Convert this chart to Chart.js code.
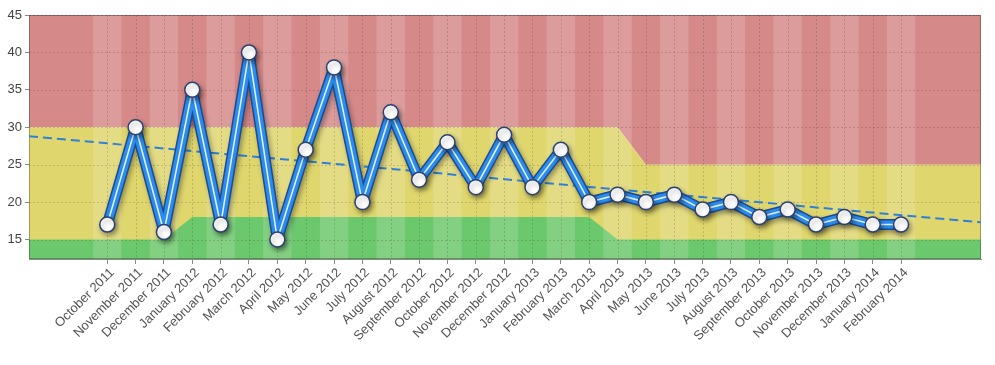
<!DOCTYPE html>
<html lang="en">
<head>
<meta charset="UTF-8" />
<title>Monthly score</title>
<style>
  body { margin: 0; background: #fff; }
  #wrap { width: 995px; height: 365px; }
</style>
</head>
<body>
<div id="wrap"><canvas id="scoreChart" width="995" height="365"></canvas></div>

<script src="https://cdn.jsdelivr.net/npm/chart.js"></script>
<script>
  // months shown on the x axis
  const monthLabels = [
    'October 2011', 'November 2011', 'December 2011',
    'January 2012', 'February 2012', 'March 2012', 'April 2012', 'May 2012', 'June 2012',
    'July 2012', 'August 2012', 'September 2012', 'October 2012', 'November 2012', 'December 2012',
    'January 2013', 'February 2013', 'March 2013', 'April 2013', 'May 2013', 'June 2013',
    'July 2013', 'August 2013', 'September 2013', 'October 2013', 'November 2013', 'December 2013',
    'January 2014', 'February 2014'
  ];

  // monthly values
  const scoreValues = [17, 30, 16, 35, 17, 40, 15, 27, 38, 20, 32, 23, 28, 22, 29,
                       22, 27, 20, 21, 20, 21, 19, 20, 18, 19, 17, 18, 17, 17];

  // upper edge of the green zone, per month
  const greenLimit = [15, 15, 15, 18, 18, 18, 18, 18, 18, 18, 18, 18, 18, 18, 18,
                      18, 18, 18, 15, 15, 15, 15, 15, 15, 15, 15, 15, 15, 15];

  // upper edge of the yellow zone, per month
  const yellowLimit = [30, 30, 30, 30, 30, 30, 30, 30, 30, 30, 30, 30, 30, 30, 30,
                       30, 30, 30, 30, 25, 25, 25, 25, 25, 25, 25, 25, 25, 25];

  // trend line, value at left and right edge of the plot
  const trendEnds = [28.8, 17.3];

  const yTicks = [15, 20, 25, 30, 35, 40, 45];

  const xMin = -2.76, xMax = 30.82;
  const yMin = 12.4, yMax = 45;

  // band edges extended to both sides of the plot
  function edgePoints(arr) {
    const pts = [{ x: xMin, y: arr[0] }];
    arr.forEach((v, i) => pts.push({ x: i, y: v }));
    pts.push({ x: xMax, y: arr[arr.length - 1] });
    return pts;
  }

  const seriesPoints = scoreValues.map((v, i) => ({ x: i, y: v }));

  // light stripes on every other month plus dotted grid, drawn right after the bands
  const bandDecor = {
    id: 'bandDecor',
    afterDatasetDraw(chart, args) {
      if (!chart.data.datasets[args.index].decorAfter) return;
      const ctx = chart.ctx;
      const a = chart.chartArea;
      const xs = chart.scales.x, ys = chart.scales.y;
      ctx.save();
      ctx.fillStyle = 'rgba(255,255,255,0.16)';
      monthLabels.forEach((m, i) => {
        if (i % 2 !== 0) return;
        const l = xs.getPixelForValue(i - 0.5);
        const r = xs.getPixelForValue(i + 0.5);
        ctx.fillRect(l, a.top, r - l, a.bottom - a.top);
      });
      ctx.strokeStyle = 'rgba(60,40,40,0.2)';
      ctx.lineWidth = 1;
      ctx.setLineDash([2, 2]);
      ctx.beginPath();
      yTicks.forEach(v => {
        const y = Math.round(ys.getPixelForValue(v)) + 0.5;
        ctx.moveTo(a.left, y); ctx.lineTo(a.right, y);
      });
      monthLabels.forEach((m, i) => {
        const x = Math.round(xs.getPixelForValue(i)) + 0.5;
        ctx.moveTo(x, a.top); ctx.lineTo(x, a.bottom);
      });
      ctx.stroke();
      ctx.setLineDash([]);
      ctx.strokeStyle = 'rgba(0,0,0,0.28)';
      ctx.strokeRect(a.left + 0.5, a.top + 0.5, a.right - a.left - 1, a.bottom - a.top - 1);
      ctx.restore();
    }
  };

  // drop shadow for the main line and its markers
  const lineShadow = {
    id: 'lineShadow',
    beforeDatasetDraw(chart, args) {
      if (!chart.data.datasets[args.index].shadow) return;
      const ctx = chart.ctx;
      ctx.save();
      ctx.shadowColor = 'rgba(0,0,0,0.35)';
      ctx.shadowBlur = 5;
      ctx.shadowOffsetX = 2;
      ctx.shadowOffsetY = 3;
    },
    afterDatasetDraw(chart, args) {
      if (!chart.data.datasets[args.index].shadow) return;
      chart.ctx.restore();
    }
  };

  Chart.defaults.font.family = 'Arial, "Liberation Sans", sans-serif';

  new Chart(document.getElementById('scoreChart'), {
    type: 'line',
    data: {
      datasets: [
        { data: edgePoints(yellowLimit), fill: 'end', backgroundColor: '#d68989',
          borderWidth: 0, pointRadius: 0, tension: 0, order: 12 },
        { data: edgePoints(yellowLimit), fill: 'start', backgroundColor: '#dfd66d',
          borderWidth: 0, pointRadius: 0, tension: 0, order: 11 },
        { data: edgePoints(greenLimit), fill: 'start', backgroundColor: '#6cc86c',
          borderWidth: 0, pointRadius: 0, tension: 0, order: 10, decorAfter: true },
        { data: [{ x: xMin, y: trendEnds[0] }, { x: xMax, y: trendEnds[1] }],
          borderColor: '#2f80d8', borderWidth: 2, borderDash: [9, 5], pointRadius: 0,
          fill: false, order: 5 },
        { data: seriesPoints, borderColor: '#1d4a90', borderWidth: 11, pointRadius: 0,
          fill: false, order: 4, shadow: true, borderJoinStyle: 'round' },
        { data: seriesPoints, borderColor: '#2a8cec', borderWidth: 8, pointRadius: 0,
          fill: false, order: 3, borderJoinStyle: 'round' },
        { data: seriesPoints, borderColor: 'rgba(255,255,255,0.85)', borderWidth: 1.6,
          pointRadius: 0, fill: false, order: 2 },
        { data: seriesPoints, showLine: false, pointRadius: 7.5, pointBackgroundColor: '#ffffff',
          pointBorderColor: '#2b4170', pointBorderWidth: 1.5, order: 1, shadow: true }
      ]
    },
    options: {
      responsive: false,
      animation: false,
      layout: { padding: { top: 15, right: 14, left: 0, bottom: 0 } },
      plugins: { legend: { display: false }, tooltip: { enabled: false } },
      scales: {
        x: {
          type: 'linear',
          min: xMin, max: xMax,
          afterBuildTicks: s => { s.ticks = monthLabels.map((m, i) => ({ value: i })); },
          afterFit: s => { s.height = 106; },
          grid: { drawOnChartArea: false, color: '#888', tickLength: 5 },
          border: { color: '#8a8a8a' },
          ticks: {
            autoSkip: false, minRotation: 45, maxRotation: 45, padding: 1, labelOffset: 5,
            color: '#555', font: { size: 13 },
            callback: v => monthLabels[v]
          }
        },
        y: {
          min: yMin, max: yMax,
          afterBuildTicks: s => { s.ticks = yTicks.map(v => ({ value: v })); },
          afterFit: s => { s.width = 29; },
          grid: { drawOnChartArea: false, color: '#888', tickLength: 4 },
          border: { color: '#8a8a8a' },
          ticks: { color: '#444', font: { size: 13 }, padding: 3 }
        }
      }
    },
    plugins: [bandDecor, lineShadow]
  });
</script>
</body>
</html>
